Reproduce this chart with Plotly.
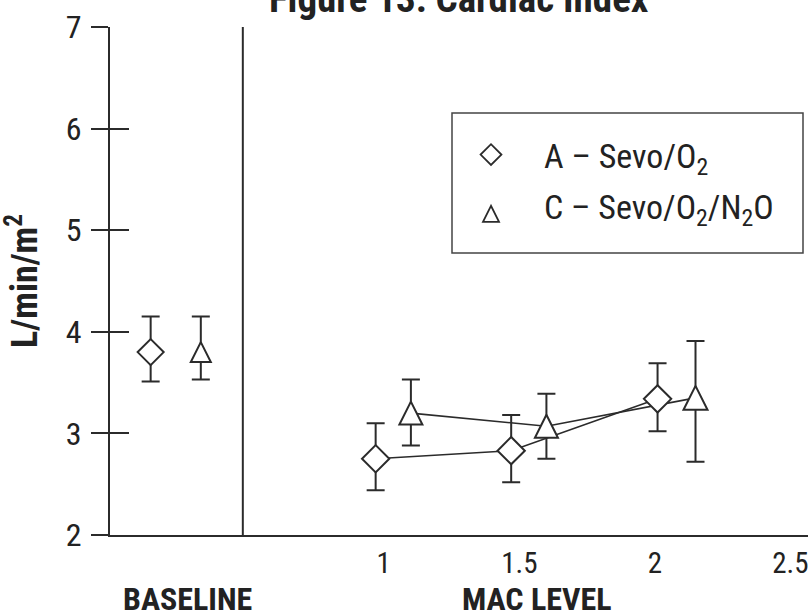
import plotly.graph_objects as go

# ---- data ----
series_names = ["A \u2013 Sevo/O<sub>2</sub>", "C \u2013 Sevo/O<sub>2</sub>/N<sub>2</sub>O"]
A_x = [0.14, 0.97, 1.47, 2.01]          # baseline, MAC 1, 1.5, 2
A_mean = [3.80, 2.75, 2.83, 3.34]
A_upper = [4.15, 3.10, 3.18, 3.69]
A_lower = [3.51, 2.44, 2.52, 3.02]
C_x = [0.325, 1.10, 1.60, 2.15]
C_mean = [3.80, 3.20, 3.07, 3.35]
C_upper = [4.15, 3.53, 3.39, 3.91]
C_lower = [3.53, 2.88, 2.75, 2.72]
x_tickvals = [1, 1.5, 2, 2.5]
x_ticktext = ["1", "1.5", "2", "2.5"]
y_tickvals = [2, 3, 4, 5, 6, 7]

INK = "#2b2b2b"
FONT = "Liberation Sans Narrow, Noto Sans Condensed, Roboto Condensed, Arial Narrow, DejaVu Sans Condensed, sans-serif"

fig = go.Figure()

def plus(m, u):
    return [b - a for a, b in zip(m, u)]

def minus(m, l):
    return [a - b for a, b in zip(m, l)]

# connecting lines (MAC levels only)
for xs, ys in ((A_x, A_mean), (C_x, C_mean)):
    fig.add_trace(go.Scatter(x=xs[1:], y=ys[1:], mode="lines",
                             line=dict(color=INK, width=1.6),
                             showlegend=False, hoverinfo="skip"))

# markers with error bars
fig.add_trace(go.Scatter(
    x=A_x, y=A_mean, mode="markers", name=series_names[0], showlegend=False,
    marker=dict(symbol="diamond", size=[20, 21, 21, 21], color="white", opacity=1,
                line=dict(color=INK, width=2)),
    error_y=dict(type="data", symmetric=False, array=plus(A_mean, A_upper),
                 arrayminus=minus(A_mean, A_lower), color=INK, thickness=2, width=9),
))
C_size = [20, 23, 23, 24]
fig.add_trace(go.Scatter(
    x=C_x, y=C_mean, mode="markers", name=series_names[1], showlegend=False,
    marker=dict(symbol="arrow-down", angle=180, size=C_size, opacity=1,
                standoff=[s / 2 for s in C_size], color="white",
                line=dict(color=INK, width=2)),
    error_y=dict(type="data", symmetric=False, array=plus(C_mean, C_upper),
                 arrayminus=minus(C_mean, C_lower), color=INK, thickness=2, width=9),
))

# legend entries
fig.add_trace(go.Scatter(x=[None], y=[None], mode="markers", name=series_names[0],
                         legendgroup="a",
                         marker=dict(symbol="diamond", size=16, color="white",
                                     line=dict(color=INK, width=1.8))))
fig.add_trace(go.Scatter(x=[None], y=[None], mode="markers", name=series_names[1],
                         legendgroup="c",
                         marker=dict(symbol="arrow-up", size=16, color="white",
                                     line=dict(color=INK, width=1.8))))

# divider between baseline and MAC panels
fig.add_shape(type="line", xref="x", yref="y", x0=0.48, x1=0.48, y0=2, y1=7,
              line=dict(color=INK, width=2))
# legend frame
fig.add_shape(type="rect", xref="paper", yref="paper",
              x0=(452 - 110) / 698, x1=(803 - 110) / 698,
              y0=1 - (253 - 27) / 508, y1=1 - (113 - 27) / 508,
              line=dict(color="#444444", width=1.5), layer="below")

fig.update_layout(
    width=808, height=616,
    margin=dict(l=110, r=0, t=27, b=81, autoexpand=False),
    paper_bgcolor="white", plot_bgcolor="white",
    font=dict(family=FONT, color="#222222", size=28),
    showlegend=True,
    legend=dict(x=(438 - 110) / 698, y=1 - (126 - 27) / 508, xanchor="left", yanchor="top",
                borderwidth=0, bgcolor="rgba(0,0,0,0)",
                font=dict(size=34, family=FONT), tracegroupgap=4,
                itemwidth=96),
    xaxis=dict(range=[-0.01, 2.565], showgrid=False, zeroline=False, automargin=False,
               showline=True, linecolor=INK, linewidth=2,
               tickvals=x_tickvals, ticktext=x_ticktext, ticks="",
               ticklabelstandoff=1, tickfont=dict(size=29),
               ticklabeloverflow="allow"),
    yaxis=dict(range=[2, 7], showgrid=False, zeroline=False, automargin=False,
               showline=True, linecolor=INK, linewidth=2,
               tickvals=y_tickvals, ticks="outside", ticklen=17,
               tickcolor=INK, tickwidth=2, tickfont=dict(size=32),
               ticklabelstandoff=3),
    yaxis2=dict(range=[2, 7], overlaying="y", side="left", showgrid=False,
                zeroline=False, showline=False, tickvals=y_tickvals, automargin=False,
                ticks="inside", ticklen=19, tickcolor=INK, tickwidth=2,
                showticklabels=False),
    annotations=[
        dict(text="<b>Figure 13: Cardiac Index</b>", xref="paper", yref="paper",
             x=(459 - 110) / 698, y=1, yanchor="bottom", yshift=3, showarrow=False,
             font=dict(size=39)),
        dict(text="<b>L/min/m<sup>2</sup></b>", xref="paper", yref="paper",
             x=0, xshift=-88, xanchor="center", y=1 - (281 - 27) / 508,
             yanchor="middle", textangle=-90, showarrow=False,
             font=dict(size=36)),
        dict(text="<b>BASELINE</b>", xref="x", yref="paper", x=0.277, y=0,
             yshift=-64, yanchor="middle", showarrow=False, font=dict(size=32)),
        dict(text="<b>MAC LEVEL</b>", xref="x", yref="paper", x=1.565, y=0,
             yshift=-64, yanchor="middle", showarrow=False, font=dict(size=32)),
    ],
)
# dummy trace to activate yaxis2 ticks
fig.add_trace(go.Scatter(x=[None], y=[None], yaxis="y2", showlegend=False,
                         hoverinfo="skip"))

fig.write_html("out.html", config={"displayModeBar": False},
               post_script="document.body.style.margin='0';document.body.style.padding='0';")
